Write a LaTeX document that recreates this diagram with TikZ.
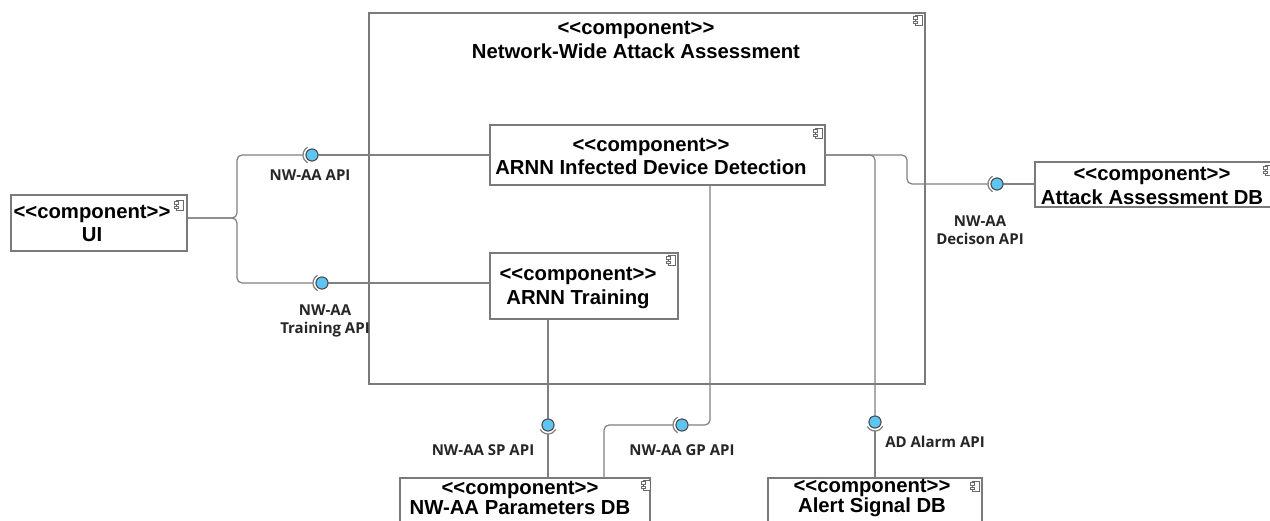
\documentclass[tikz,border=0pt]{standalone}
\usepackage{fontspec}
\setmainfont{Liberation Sans}[Ligatures=TeXOff]
\newfontfamily\lblfont{Open Sans}[Ligatures=TeXOff]

\definecolor{boxgray}{HTML}{7A7A7A}
\definecolor{wiregray}{HTML}{808080}
\definecolor{ballblue}{HTML}{5EC4F2}
\definecolor{balledge}{HTML}{4A4A4A}
\definecolor{labelgray}{HTML}{262626}
\definecolor{iconcol}{HTML}{6A6A6A}

\tikzset{
  frame/.style={draw=boxgray, line width=1.2pt, inner sep=0pt},
  comp/.style={draw=boxgray, line width=1.2pt, fill=white, inner sep=0pt},
  ctext/.style={inner sep=0pt, align=center, font=\bfseries\fontsize{20.3}{23.5}\selectfont},
  lowtext/.style={ctext, font=\bfseries\fontsize{20.3}{20.5}\selectfont},
  wire/.style={draw=wiregray, line width=1.2pt, rounded corners=5pt},
  sock/.style={draw=wiregray, line width=1.2pt},
  ball/.style={circle, draw=balledge, fill=ballblue, minimum size=12pt,
    inner sep=0pt, line width=0.9pt},
  lbl/.style={font=\lblfont\bfseries\fontsize{15}{17.5}\selectfont,
    text=labelgray, align=center, inner sep=0pt},
  compicon/.pic={
    \draw[iconcol, line width=0.6pt, fill=white] (-3,-5) rectangle (4,5);
    \draw[iconcol, line width=0.6pt, fill=white] (-5,1.2) rectangle (-1,3.4);
    \draw[iconcol, line width=0.6pt, fill=white] (-5,-3.4) rectangle (-1,-1.2);
  }
}

\begin{document}
\begin{tikzpicture}[x=1pt, y=1pt]
\clip (0,0) rectangle (1270,-520);
\fill[white] (0,0) rectangle (1270,-520);

% enclosing component
\node[frame, minimum width=556pt, minimum height=371pt] (nwaa) at (647,-198.5) {};
\node[ctext] (nwaatitle) at (636,-40) {<<component>>\\Network-Wide Attack Assessment};
\pic at (918,-20) {compicon};

% provided / required interface symbols
\node[ball] (b1) at (312,-155) {};
\node[ball] (b2) at (322,-283) {};
\node[ball] (b3) at (997,-184) {};
\node[ball] (b4) at (875,-422) {};
\node[ball] (b5) at (548,-425) {};
\node[ball] (b6) at (682,-425) {};

\coordinate (s1) at ([xshift=-9pt]b1.center);
\coordinate (s2) at ([xshift=-9pt]b2.center);
\coordinate (s3) at ([xshift=-9pt]b3.center);
\coordinate (s4) at ([yshift=-9pt]b4.center);
\coordinate (s5) at ([yshift=-9pt]b5.center);
\coordinate (s6) at ([xshift=-9pt]b6.center);

% component boxes
\node[comp, minimum width=335pt, minimum height=60pt] (arnn) at (657.5,-155) {};
\node[comp, minimum width=188pt, minimum height=66pt] (train) at (584,-286) {};
\node[comp, minimum width=176pt, minimum height=56pt] (ui) at (99,-223) {};
\node[comp, minimum width=240pt, minimum height=45pt] (adb) at (1155,-184.5) {};
\node[comp, minimum width=250pt, minimum height=46pt] (pdb) at (525,-501) {};
\node[comp, minimum width=214pt, minimum height=46pt] (alert) at (875,-501) {};

% component names
\node[ctext] (arnntext) at (651,-156.5) {<<component>>\\ARNN Infected Device Detection};
\node[ctext] (traintext) at (578,-288) {<<component>>\\ARNN Training};
\node[ctext] (uitext) at (92,-223.5) {<<component>>\\UI};
\node[ctext] (adbtext) at (1152,-186) {<<component>>\\Attack Assessment DB};
\node[lowtext] (pdbtext) at (520,-498) {<<component>>\\NW-AA Parameters DB};
\node[lowtext] (alerttext) at (872,-498) {<<component>>\\Alert Signal DB};

% connectors
\draw[wire] ([yshift=5pt]ui.east) -- (237,-218) -- (237,-155) -- (s1);
\draw[wire] ([yshift=5pt]ui.east) -- (237,-218) -- (237,-283) -- (s2);
\draw[wire] (b1.east) -- (arnn.west |- b1);
\draw[wire] (b2.east) -- (train.west |- b2);

\draw[wire] (arnn.east) -- (907,-155) -- (907,-184) -- (s3);
\draw[wire] (b3.east) -- (adb.west |- b3);

\draw[wire] (arnn.east) -- (875,-155) -- (b4.north);
\draw[wire] (s4) -- (alert.north);

\draw[wire] (b5 |- train.south) -- (b5.north);
\draw[wire] (s5) -- (s5 |- pdb.north);

\draw[wire] ([xshift=52.5pt]arnn.south) -- (710,-425) -- (b6.east);
\draw[wire] (s6) -- (604,-425) -- (pdb.north -| 604,0);

% socket arcs
\draw[sock] (b1.center) ++(120:9pt) arc[start angle=120, end angle=240, radius=9pt];
\draw[sock] (b2.center) ++(120:9pt) arc[start angle=120, end angle=240, radius=9pt];
\draw[sock] (b3.center) ++(120:9pt) arc[start angle=120, end angle=240, radius=9pt];
\draw[sock] (b6.center) ++(120:9pt) arc[start angle=120, end angle=240, radius=9pt];
\draw[sock] (b4.center) ++(210:9pt) arc[start angle=210, end angle=330, radius=9pt];
\draw[sock] (b5.center) ++(210:9pt) arc[start angle=210, end angle=330, radius=9pt];

% redraw balls on top of the wires
\foreach \b in {b1,b2,b3,b4,b5,b6}
  \draw[balledge, fill=ballblue, line width=0.9pt] (\b.center) circle[radius=6pt];

% component icons
\pic at (818,-133) {compicon};
\pic at (671,-260) {compicon};
\pic at (179,-205) {compicon};
\pic at (1268,-170) {compicon};
\pic at (646,-485) {compicon};
\pic at (975,-486) {compicon};

% interface labels
\node[lbl] (l1) at (310,-175) {NW-AA API};
\node[lbl] (l2) at (325,-321) {NW-AA\\Training API};
\node[lbl] (l3) at (980,-230) {NW-AA\\Decison API};
\node[lbl] (l4) at (483,-450) {NW-AA SP API};
\node[lbl] (l5) at (682,-450) {NW-AA GP API};
\node[lbl] (l6) at (935,-442) {AD Alarm API};
\end{tikzpicture}
\end{document}
